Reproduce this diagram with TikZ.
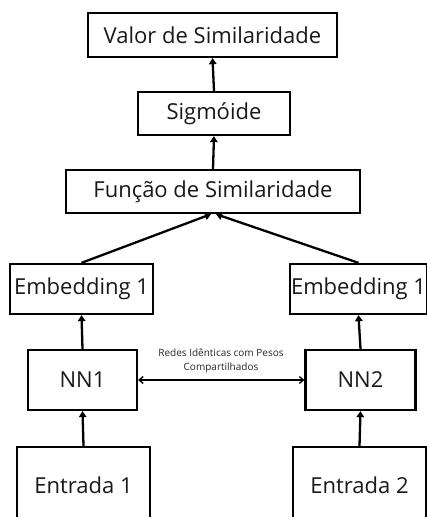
\documentclass[tikz,border=0pt]{standalone}
\usepackage{fontspec}
\setmainfont{Open Sans}
\usetikzlibrary{arrows.meta,calc}
\begin{document}
\begin{tikzpicture}[x=1pt,y=-1pt,
  box/.style={draw=black,line width=2.3pt,inner sep=0pt,font=\fontsize{22}{26}\selectfont,text=black!90},
  arr/.style={line width=2.3pt,-{Triangle[length=6pt,width=7.5pt]}},
  darr/.style={line width=1.4pt,{Straight Barb[length=4pt,width=7pt]}-{Straight Barb[length=4pt,width=7pt]}}]
\useasboundingbox[fill=white] (0,0) rectangle (426,517);
\node[box,minimum width=249pt,minimum height=44pt] (valor) at (212.5,35) {Valor de Similaridade};
\node[box,minimum width=152pt,minimum height=43pt] (sig) at (214,113.5) {Sigmóide};
\node[box,minimum width=294pt,minimum height=43pt] (func) at (213,191.5) {Função de Similaridade};
\node[box,minimum width=143pt,minimum height=50pt] (emb1) at (81.5,289) {Embedding 1};
\node[box,minimum width=137pt,minimum height=50pt] (emb2) at (358.5,289) {Embedding 1};
\node[box,minimum width=109pt,minimum height=60pt] (nn1) at (82.5,380) {NN1};
\node[box,minimum width=110pt,minimum height=60pt] (nn2) at (360.5,380) {NN2};
\node[box,minimum width=133pt,minimum height=76pt] (ent1) at (83.5,485) {Entrada 1};
\node[box,minimum width=133pt,minimum height=76pt] (ent2) at (359.5,485) {Entrada 2};
\node[font=\fontsize{10}{14}\selectfont,align=center,text=black!85] (lbl) at (221,361) {Redes Idênticas com Pesos\\Compartilhados};
\draw[arr] (sig.north) -- (valor.south);
\draw[arr] (func.north) -- (sig.south);
\draw[arr] (emb1.north) -- ($(func.south)+(-2,0)$);
\draw[arr] (emb2.north) -- ($(func.south)+(3,0)$);
\draw[arr] (nn1.north) -- (emb1.south);
\draw[arr] (nn2.north) -- (emb2.south);
\draw[arr] (ent1.north) -- (nn1.south);
\draw[arr] (ent2.north) -- (nn2.south);
\draw[darr] (nn1.east) -- (nn2.west);
\end{tikzpicture}
\end{document}
